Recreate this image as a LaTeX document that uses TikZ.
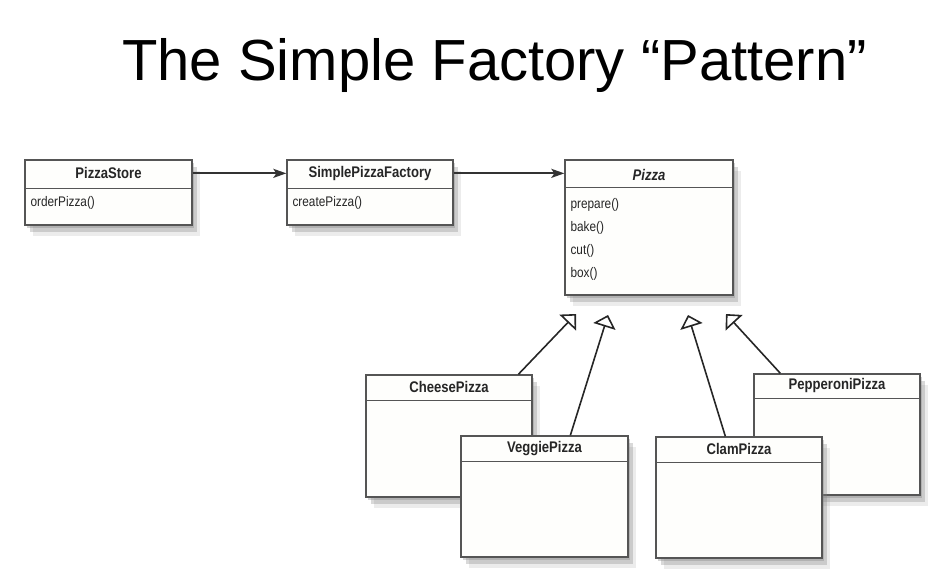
\documentclass[tikz,border=0pt]{standalone}
\usepackage{fontspec}
\setmainfont{Liberation Sans}
\newfontfamily\umlfont[FakeStretch=0.85]{Liberation Sans}
\usetikzlibrary{arrows.meta}
\usetikzlibrary{shadows}
\usetikzlibrary{positioning}
\definecolor{boxfill}{RGB}{254,254,252}
\definecolor{boxline}{RGB}{85,85,85}
\begin{document}
\begin{tikzpicture}[x=1pt,y=-1pt,>={Stealth[length=13pt,width=9pt,inset=3pt]},
    class box/.style={rectangle,draw=boxline,fill=boxfill,line width=1.3pt,inner sep=0pt,
      drop shadow={shadow xshift=2pt,shadow yshift=-3pt,opacity=.35},
      drop shadow={shadow xshift=5pt,shadow yshift=-7pt,opacity=.3},
      drop shadow={shadow xshift=8pt,shadow yshift=-11pt,opacity=.15}},
    class name/.style={font=\umlfont\fontsize{15.4}{18}\selectfont\bfseries,text=black!85,inner sep=0pt},
    method/.style={font=\umlfont\fontsize{13.9}{16}\selectfont,text=black!85,inner sep=0pt,anchor=west},
    sep line/.style={draw=boxline,line width=1.2pt},
    assoc/.style={->,draw=black!80,line width=2pt},
    inherit/.style={-{Triangle[open,length=12pt,width=23pt,line width=1.6pt]},draw=black!85,line width=1.6pt}]
   \useasboundingbox (0,0) rectangle (937,588);
   \node[anchor=base,font=\fontsize{58}{64}\selectfont] (title) at (494.5,81) {The Simple Factory “Pattern”};
   % top row
   \node[class box,minimum width=167pt,minimum height=65pt] (store) at (108.5,192.5) {};
   \node[class name] (storename) at ([yshift=-14pt]store.north) {PizzaStore};
   \draw[sep line] ([yshift=-29pt]store.north west) -- ([yshift=-29pt]store.north east);
   \node[method] (order) at ([xshift=6pt,yshift=-44pt]store.north west) {orderPizza()};
   \node[class box,minimum width=166pt,minimum height=65pt] (factory) at (370,192.5) {};
   \node[class name] (factoryname) at ([yshift=-14pt]factory.north) {SimplePizzaFactory};
   \draw[sep line] ([yshift=-29pt]factory.north west) -- ([yshift=-29pt]factory.north east);
   \node[method] (create) at ([xshift=6pt,yshift=-44pt]factory.north west) {createPizza()};
   \node[class box,minimum width=168pt,minimum height=135pt] (pizza) at (649,227.5) {};
   \node[class name,font=\umlfont\fontsize{15.4}{18}\selectfont\bfseries\itshape] (pizzaname) at ([yshift=-16pt]pizza.north) {Pizza};
   \draw[sep line] ([yshift=-28pt]pizza.north west) -- ([yshift=-28pt]pizza.north east);
   \node[method] (prepare) at ([xshift=6pt,yshift=-46pt]pizza.north west) {prepare()};
   \node[method] (bake) at ([xshift=6pt,yshift=-69pt]pizza.north west) {bake()};
   \node[method] (cut) at ([xshift=6pt,yshift=-92pt]pizza.north west) {cut()};
   \node[method] (box) at ([xshift=6pt,yshift=-115pt]pizza.north west) {box()};
   \draw[assoc] (storename -| store.east) -- (storename -| factory.west);
   \draw[assoc] (factoryname -| factory.east) -- (factoryname -| pizza.west);
   % subclasses
   \node[class box,minimum width=166pt,minimum height=122pt] (cheese) at (449,436) {};
   \node[class name] (cheesename) at ([yshift=-13pt]cheese.north) {CheesePizza};
   \draw[sep line] ([yshift=-26pt]cheese.north west) -- ([yshift=-26pt]cheese.north east);
   \node[class box,minimum width=167pt,minimum height=121pt] (veggie) at (544.5,496.5) {};
   \node[class name] (veggiename) at ([yshift=-13pt]veggie.north) {VeggiePizza};
   \draw[sep line] ([yshift=-26pt]veggie.north west) -- ([yshift=-26pt]veggie.north east);
   \node[class box,minimum width=166pt,minimum height=121pt] (pepperoni) at (837,434.5) {};
   \node[class name] (pepperoniname) at ([yshift=-12pt]pepperoni.north) {PepperoniPizza};
   \draw[sep line] ([yshift=-25pt]pepperoni.north west) -- ([yshift=-25pt]pepperoni.north east);
   \node[class box,minimum width=166pt,minimum height=121pt] (clam) at (739,497.5) {};
   \node[class name] (clamname) at ([yshift=-13pt]clam.north) {ClamPizza};
   \draw[sep line] ([yshift=-26pt]clam.north west) -- ([yshift=-26pt]clam.north east);
   \coordinate (cheesetip) at (576,314);
   \coordinate (veggietip) at (608,315);
   \coordinate (clamtip) at (688,315);
   \coordinate (pepperonitip) at (726,314);
   \draw[inherit] ([xshift=153pt]cheese.north west) -- (cheesetip);
   \draw[inherit] ([xshift=110pt]veggie.north west) -- (veggietip);
   \draw[inherit] ([xshift=70pt]clam.north west) -- (clamtip);
   \draw[inherit] ([xshift=27pt]pepperoni.north west) -- (pepperonitip);
\end{tikzpicture}
\end{document}
